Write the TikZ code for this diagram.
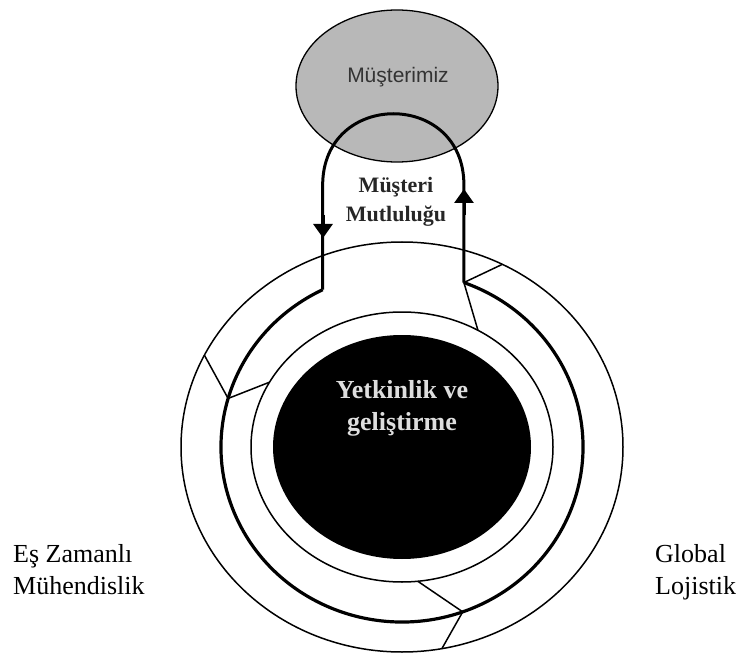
\documentclass[tikz,border=0pt]{standalone}
\usepackage{fontspec}
\setmainfont{Liberation Serif}
\newfontfamily\labelsans{Liberation Sans}
\usetikzlibrary{arrows.meta,shapes.geometric}
\definecolor{custgrey}{RGB}{184,184,184}
\definecolor{corelabel}{RGB}{222,222,222}
\begin{document}
\begin{tikzpicture}[x=1pt,y=-1pt,
  thinring/.style={line width=1.5pt,line join=round},
  thickring/.style={line width=3.2pt},
  loopline/.style={line width=3pt,line join=round},
  looptip/.style={line width=3pt,-{Triangle[length=14pt,width=19pt]}},
  sidelabel/.style={font=\fontsize{26}{32}\selectfont,align=left,anchor=base west,inner sep=0pt},
]
\useasboundingbox (0,0) rectangle (742,655);
\coordinate (c) at (402,447);

% customer ellipse
\node[draw,line width=1.3pt,fill=custgrey,ellipse,minimum width=202pt,minimum height=152pt,inner sep=0pt] (cust) at (397,86) {};
\node[font=\labelsans\fontsize{21}{25}\selectfont,text=black!80,anchor=base,inner sep=0pt] (custlabel) at (398,83) {Müşterimiz};

% rings around the core
\draw[thinring] (c) ellipse [x radius=221pt,y radius=205pt];
\draw[thinring] (c) ellipse [x radius=151pt,y radius=135pt];
\fill[black] (c) ellipse [x radius=129pt,y radius=112pt];

% thick ring, open at the top where the loop joins
\coordinate (tl) at ([shift={(c)}]116:181pt and 175pt);
\coordinate (tr) at ([shift={(c)}]70:181pt and 175pt);
\draw[thickring] (tl) arc[start angle=116,end angle=430,x radius=181pt,y radius=175pt];

% loop up through the customer
\coordinate (al) at (323,185);
\coordinate (ar) at (464,185);
\draw[loopline] (tl) -- (tl |- al) .. controls (323,90) and (464,90) .. (tr |- ar) -- (tr);
\coordinate (la1) at (323,215);
\coordinate (la2) at (323,238);
\coordinate (ra1) at (464,215);
\coordinate (ra2) at (464,189);
\draw[looptip] (la1) -- (la2);
\draw[looptip] (ra1) -- (ra2);

% chevrons across the rings
\coordinate (lo) at ([shift={(c)}]153.4:221pt and 205pt);
\coordinate (lm) at ([shift={(c)}]163.9:181pt and 175pt);
\coordinate (li) at ([shift={(c)}]151.3:151pt and 135pt);
\draw[thinring] (lo) -- (lm) -- (li);
\coordinate (ro) at ([shift={(c)}]63:221pt and 205pt);
\coordinate (ri) at ([shift={(c)}]59.8:151pt and 135pt);
\draw[thinring] (ro) -- (tr) -- (ri);
\coordinate (bi) at ([shift={(c)}]276:151pt and 135pt);
\coordinate (bm) at ([shift={(c)}]289.6:181pt and 175pt);
\coordinate (bo) at ([shift={(c)}]280.4:221pt and 205pt);
\draw[thinring] (bi) -- (bm) -- (bo);

% labels (multi-line nodes are placed by the baseline of their last line)
\node[font=\bfseries\fontsize{22}{29}\selectfont,text=black!85,align=center,anchor=base,inner sep=0pt] (sat) at (396,222) {Müşteri\\Mutluluğu};
\node[font=\bfseries\fontsize{26}{32}\selectfont,text=corelabel,align=center,anchor=base,inner sep=0pt] (core) at (402,430) {Yetkinlik ve\\geliştirme};
\node[sidelabel] (conc) at (13,594) {Eş Zamanlı\\Mühendislik};
\node[sidelabel] (glob) at (655,594) {Global\\Lojistik};
\end{tikzpicture}
\end{document}
